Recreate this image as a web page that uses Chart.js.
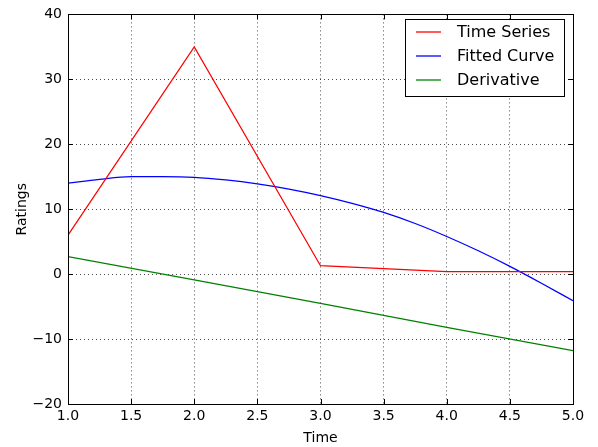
<!DOCTYPE html>
<html lang="en">
<head>
   <meta charset="UTF-8">
   <title>Ratings over Time</title>
   <style>
      body { margin: 0; background: #fff; }
      #wrap { width: 598px; height: 447px; }
   </style>
</head>
<body>
   <div id="wrap"><canvas id="myChart" width="598" height="447"></canvas></div>

   <script src="https://cdn.jsdelivr.net/npm/chart.js"></script>
   <script>
      // values
      const seriesTime = [1, 2, 3, 4, 5];
      const seriesRatings = [6.0, 35.0, 1.3, 0.4, 0.4];

      const fitTime = [1, 1.25, 1.5, 1.75, 2, 2.25, 2.5, 2.75, 3, 3.25, 3.5, 3.75, 4, 4.25, 4.5, 4.75, 5];
      const fitRatings = [14.0, 14.6, 15.0, 15.0, 14.9, 14.5, 13.9, 13.1, 12.1, 10.9, 9.5, 7.8, 5.8, 3.6, 1.2, -1.4, -4.1];

      const derivTime = [1, 2, 3, 4, 5];
      const derivRatings = [2.7, -0.9, -4.5, -8.2, -11.8];

      const xTicks = [1.0, 1.5, 2.0, 2.5, 3.0, 3.5, 4.0, 4.5, 5.0];
      const yTicks = [-20, -10, 0, 10, 20, 30, 40];

      const pts = (xs, ys) => xs.map((x, i) => ({ x: x, y: ys[i] }));
      const font = { family: 'DejaVu Sans', size: 14 };

      // frame, inward ticks and the boxed legend, matplotlib style
      const framePlugin = {
         id: 'frame',
         afterDraw(chart) {
            const c = chart.ctx, a = chart.chartArea;
            const xs = chart.scales.x, ys = chart.scales.y;
            c.save();
            c.strokeStyle = '#000';
            c.lineWidth = 1;
            c.beginPath();
            xTicks.forEach(v => {
               const p = Math.round(xs.getPixelForValue(v)) + 0.5;
               c.moveTo(p, a.bottom); c.lineTo(p, a.bottom - 5);
               c.moveTo(p, a.top); c.lineTo(p, a.top + 5);
            });
            yTicks.forEach(v => {
               const p = Math.round(ys.getPixelForValue(v)) + 0.5;
               c.moveTo(a.left, p); c.lineTo(a.left + 5, p);
               c.moveTo(a.right, p); c.lineTo(a.right - 5, p);
            });
            c.stroke();
            c.strokeRect(Math.round(a.left) + 0.5, Math.round(a.top) + 0.5,
               Math.round(a.right - a.left), Math.round(a.bottom - a.top));

            // legend
            const bx = 405.5, by = 19.5, bw = 159, bh = 77;
            c.fillStyle = '#fff';
            c.fillRect(bx, by, bw, bh);
            c.strokeRect(bx, by, bw, bh);
            c.font = '16px "DejaVu Sans"';
            c.textBaseline = 'middle';
            chart.data.datasets.forEach((ds, i) => {
               const yy = 32 + i * 24;
               c.strokeStyle = ds.borderColor;
               c.lineWidth = 1.3;
               c.beginPath();
               c.moveTo(416, yy); c.lineTo(441, yy);
               c.stroke();
               c.fillStyle = '#000';
               c.fillText(ds.label, 457, yy + 1);
            });
            c.restore();
         }
      };

      const ctx = document.getElementById('myChart').getContext('2d');

      const myChart = new Chart(ctx, {
         type: 'line',
         data: {
            datasets: [{
               label: 'Time Series',
               data: pts(seriesTime, seriesRatings),
               borderColor: '#ff0000',
               borderWidth: 1.25,
               pointRadius: 0
            }, {
               label: 'Fitted Curve',
               data: pts(fitTime, fitRatings),
               borderColor: '#0000ff',
               borderWidth: 1.25,
               pointRadius: 0,
               cubicInterpolationMode: 'monotone'
            }, {
               label: 'Derivative',
               data: pts(derivTime, derivRatings),
               borderColor: '#008000',
               borderWidth: 1.25,
               pointRadius: 0
            }]
         },
         options: {
            responsive: false,
            animation: false,
            layout: { padding: { left: 14, right: 25, top: 12, bottom: 0 } },
            scales: {
               x: {
                  type: 'linear',
                  min: 1, max: 5,
                  afterBuildTicks: s => { s.ticks = xTicks.map(v => ({ value: v })); },
                  afterFit: s => { s.height = 43; },
                  ticks: {
                     color: '#000', font: font, padding: 4,
                     callback: v => v.toFixed(1)
                  },
                  grid: { color: 'rgba(0,0,0,0.7)', lineWidth: 1, drawTicks: false },
                  border: { display: false, dash: [1, 3] },
                  title: { display: true, text: 'Time', color: '#000', font: font, padding: { top: 1, bottom: 0 } }
               },
               y: {
                  min: -20, max: 40,
                  afterBuildTicks: s => { s.ticks = yTicks.map(v => ({ value: v })); },
                  afterFit: s => { s.width = 54; },
                  ticks: {
                     color: '#000', font: font, padding: 6,
                     callback: v => (v < 0 ? '\u2212' + Math.abs(v) : String(v))
                  },
                  grid: { color: 'rgba(0,0,0,0.7)', lineWidth: 1, drawTicks: false },
                  border: { display: false, dash: [1, 3] },
                  title: { display: true, text: 'Ratings', color: '#000', font: font, padding: 0 }
               }
            },
            plugins: {
               legend: { display: false },
               tooltip: { enabled: false }
            }
         },
         plugins: [framePlugin]
      });
   </script>
</body>
</html>
